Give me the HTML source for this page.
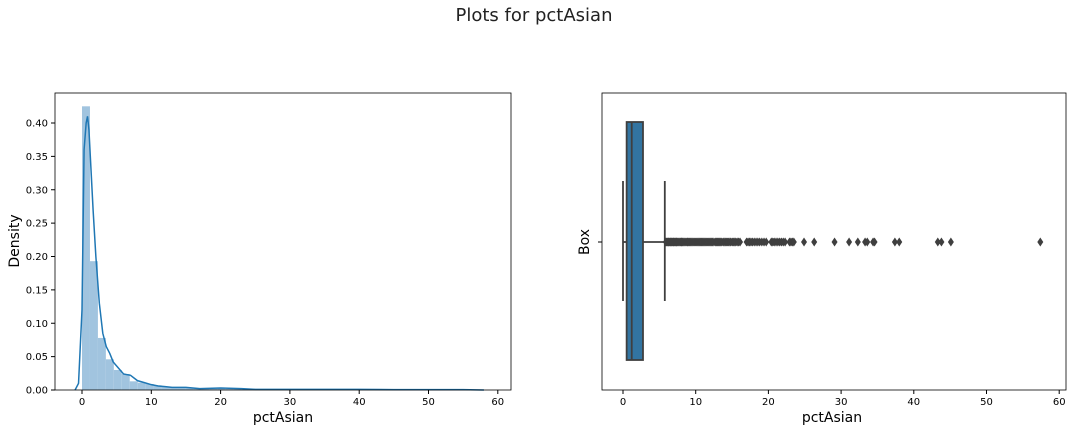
<!DOCTYPE html>
<html><head><meta charset="utf-8"><style>
body{margin:0;background:#fff;font-family:"Liberation Sans","DejaVu Sans",sans-serif}
svg text{font-family:"DejaVu Sans","Liberation Sans",sans-serif}
</style></head><body>
<svg id="fig" width="1069" height="432" viewBox="0 0 1069 432" xmlns="http://www.w3.org/2000/svg">
<rect width="1069" height="432" fill="#fff"/>
<text x="534" y="21" text-anchor="middle" font-size="18" fill="#222">Plots for pctAsian</text>
<g id="left"></g>
<g id="right"></g>
</svg>
<script>
const histBins = [0.425,0.193,0.078,0.046,0.030,0.024,0.013,0.011,0.009,0.007,0.005,0.004,0.004,0.003,0.003,0.002,0.002,0.002,0.0015,0.0015,0.0012,0.001,0.0008,0.0006,0.0005,0.0005,0.0004,0.0004,0.0004,0.0003,0.0003,0.0003,0.0003,0.0002,0.0002,0.0002,0.0002,0.0001,0.0001,0.0001,0.0001,0.0001,0.0001,0.0001,0.0001,0.0001,0.0001,0.0001,0.0001,0.0001];
const histMin = 0, histMax = 57.4;
const kdeX = [-1,-0.5,0,0.3,0.6,0.8,1.0,1.3,1.6,2.0,2.5,3.0,3.5,4,4.5,5,5.5,6,7,8,9,10,11,12,13,14,15,17,20,23,25,30,35,40,45,50,55,58];
const kdeY = [0,0.01,0.12,0.36,0.40,0.41,0.39,0.33,0.27,0.20,0.13,0.085,0.065,0.055,0.042,0.036,0.03,0.024,0.022,0.014,0.011,0.008,0.006,0.005,0.004,0.004,0.004,0.002,0.003,0.002,0.001,0.001,0.001,0.001,0.0005,0.0005,0.0005,0];
const yTicks = [0,0.05,0.10,0.15,0.20,0.25,0.30,0.35,0.40];
const xTicks = [0,10,20,30,40,50,60];
const boxStats = {min:0, q1:0.5, med:1.2, q3:2.75, max:5.75};
const outliers = [5.9,6.0,6.1,6.2,6.3,6.4,6.5,6.6,6.7,6.8,6.9,7.0,7.1,7.2,7.3,7.4,7.5,7.65,7.8,7.9,8,8.1,8.2,8.35,8.5,8.65,8.8,8.9,9,9.15,9.3,9.45,9.6,9.75,9.9,10.05,10.2,10.35,10.5,10.65,10.8,10.95,11.1,11.25,11.4,11.55,11.7,11.85,12,12.15,12.3,12.5,12.7,12.85,13,13.15,13.3,13.45,13.6,13.8,14,14.15,14.3,14.45,14.6,14.8,15,15.15,15.3,15.5,15.7,15.9,16.1,17,17.2,17.4,17.6,17.8,18.05,18.3,18.55,18.8,19.1,19.4,19.7,20.4,20.6,20.8,21.05,21.3,21.55,21.8,22.05,22.3,22.9,23.1,23.3,23.5,24.9,26.3,29.1,31.1,32.3,33.3,33.6,34.4,34.6,37.4,38,43.3,43.8,45.1,57.4];
const NS='http://www.w3.org/2000/svg';
function mk(p,t,a){const e=document.createElementNS(NS,t);for(const k in a)e.setAttribute(k,a[k]);p.appendChild(e);return e;}
// left
const L=document.getElementById('left');
const lx=v=>82+v*6.93, ly=v=>390-v*667.5;
const bw=(histMax-histMin)/histBins.length;
histBins.forEach((h,i)=>{const r=mk(L,'rect',{x:lx(histMin+i*bw),y:ly(h),width:bw*6.93,height:390-ly(h),fill:'#a1c4df'});

});
const kp=mk(L,'polyline',{points:kdeX.map((x,i)=>lx(x)+','+ly(kdeY[i])).join(' '),fill:'none',stroke:'#1f77b4','stroke-width':1.5});


mk(L,'rect',{x:55,y:93,width:456,height:297,fill:'none',stroke:'#000','stroke-width':0.8});
yTicks.forEach(t=>{mk(L,'line',{x1:51,x2:55,y1:ly(t),y2:ly(t),stroke:'#000'});
const tx=mk(L,'text',{x:48,y:ly(t)+3.5,'text-anchor':'end','font-size':10,fill:'#000'});tx.textContent=t.toFixed(2);

});
xTicks.forEach(t=>{mk(L,'line',{x1:lx(t),x2:lx(t),y1:390,y2:394,stroke:'#000'});
const tx=mk(L,'text',{x:lx(t),y:405,'text-anchor':'middle','font-size':10,fill:'#000'});tx.textContent=t;

});
let t1=mk(L,'text',{x:283,y:422,'text-anchor':'middle','font-size':14,fill:'#000'});t1.textContent='pctAsian';


let t2=mk(L,'text',{x:19,y:241,'text-anchor':'middle','font-size':14,fill:'#000',transform:'rotate(-90 19 241)'});t2.textContent='Density';


// right
const R=document.getElementById('right');
const rx=v=>623+v*7.27;const cy=242;
mk(R,'line',{x1:rx(boxStats.min),x2:rx(boxStats.q1),y1:cy,y2:cy,stroke:'#3f3f3f','stroke-width':1.8});
mk(R,'line',{x1:rx(boxStats.q3),x2:rx(boxStats.max),y1:cy,y2:cy,stroke:'#3f3f3f','stroke-width':1.8});
mk(R,'line',{x1:rx(boxStats.min),x2:rx(boxStats.min),y1:181,y2:301,stroke:'#3f3f3f','stroke-width':1.8});
mk(R,'line',{x1:rx(boxStats.max),x2:rx(boxStats.max),y1:181,y2:301,stroke:'#3f3f3f','stroke-width':1.8});
const box=mk(R,'rect',{x:rx(boxStats.q1),y:122,width:rx(boxStats.q3)-rx(boxStats.q1),height:238,fill:'#3274a1',stroke:'#3f3f3f','stroke-width':1.8});


mk(R,'line',{x1:rx(boxStats.med),x2:rx(boxStats.med),y1:122,y2:360,stroke:'#3f3f3f','stroke-width':1.8});
outliers.forEach(o=>{const x=rx(o);const d=mk(R,'polygon',{points:`${x},${cy-4.5} ${x+3},${cy} ${x},${cy+4.5} ${x-3},${cy}`,fill:'#3f3f3f'});

});
mk(R,'rect',{x:602,y:93,width:464,height:297,fill:'none',stroke:'#000','stroke-width':0.8});
mk(R,'line',{x1:598,x2:602,y1:cy,y2:cy,stroke:'#000'});
xTicks.forEach(t=>{mk(R,'line',{x1:rx(t),x2:rx(t),y1:390,y2:394,stroke:'#000'});
const tx=mk(R,'text',{x:rx(t),y:405,'text-anchor':'middle','font-size':10,fill:'#000'});tx.textContent=t;

});
let t3=mk(R,'text',{x:832,y:422,'text-anchor':'middle','font-size':14,fill:'#000'});t3.textContent='pctAsian';


let t4=mk(R,'text',{x:589,y:242,'text-anchor':'middle','font-size':14,fill:'#000',transform:'rotate(-90 589 242)'});t4.textContent='Box';


</script>
</body></html>
